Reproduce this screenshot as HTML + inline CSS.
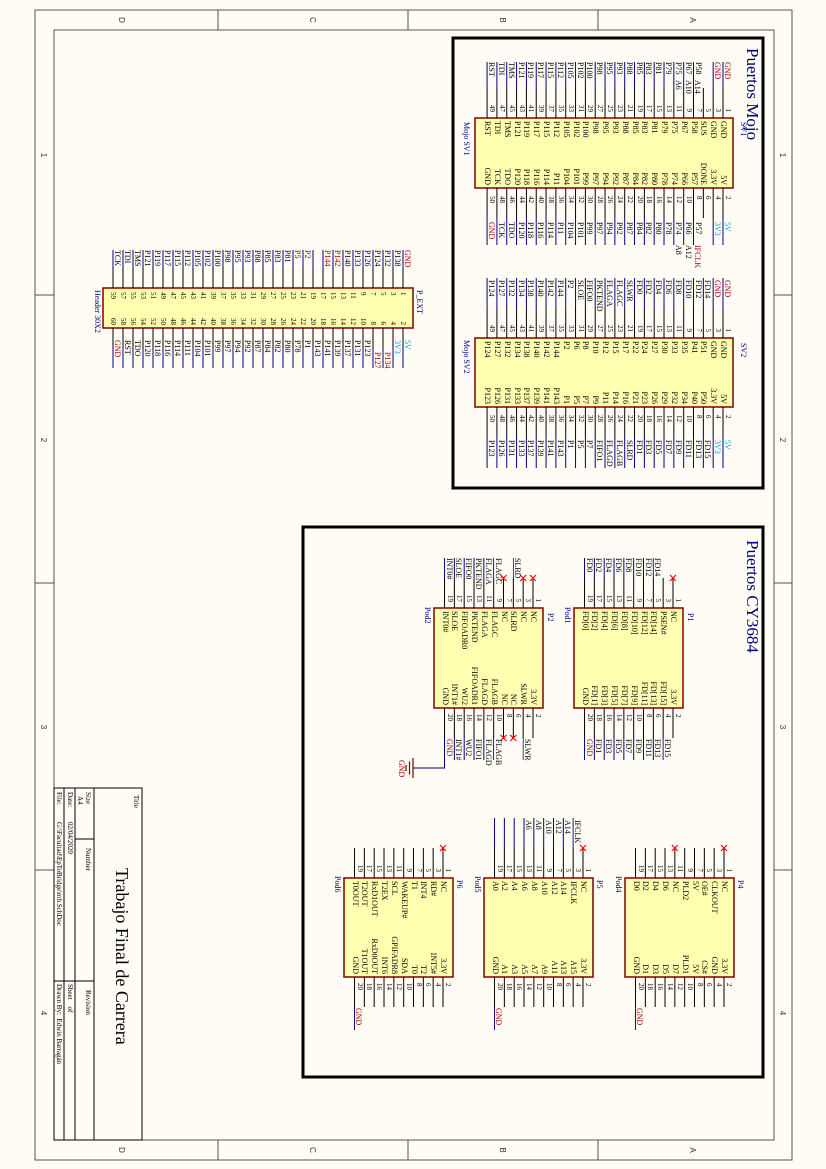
<!DOCTYPE html>
<html><head><meta charset="utf-8"><style>
*{margin:0;padding:0}
body{width:826px;height:1169px;background:#fffcf5;overflow:hidden;position:relative}
#L{position:absolute;left:0;top:0;width:1169px;height:826px;transform-origin:0 0;transform:translate(826px,0) rotate(90deg)}
#L svg{position:absolute;left:0;top:0}
.c{position:absolute;font:8px/9.83px "Liberation Serif",serif;white-space:pre;color:#000}
.h{line-height:10px}
.n{font-size:7px}
.r{text-align:right;width:40px}
.rd{color:#a00000}.cy{color:#00a0e0}.nv{color:#000080}
.d{position:absolute;font:8px "Liberation Serif",serif;color:#000080;white-space:pre}
.t{position:absolute;font:7px "Liberation Serif",serif;color:#000;white-space:pre}
</style></head><body><div id="L">
<svg width="1169" height="826">
<defs>
<pattern id="pk" width="10" height="9.83" patternUnits="userSpaceOnUse" y="-0.5"><rect width="10" height="1" fill="#000"/></pattern>
<pattern id="pb" width="10" height="9.83" patternUnits="userSpaceOnUse" y="-0.5"><rect width="10" height="1" fill="#000080"/></pattern>
<pattern id="hk" width="10" height="10" patternUnits="userSpaceOnUse" y="-0.5"><rect width="10" height="1" fill="#000"/></pattern>
<pattern id="hb" width="10" height="10" patternUnits="userSpaceOnUse" y="-0.5"><rect width="10" height="1" fill="#000080"/></pattern>
</defs>
<g fill="none" stroke="#555" stroke-width="1">
<rect x="10" y="34" width="1150" height="757"/>
<rect x="30" y="52" width="1110" height="720"/>
<path d="M295 34v18M583 34v18M870 34v18M295 772v19M583 772v19M870 772v19M10 228h20M10 418h20M10 608h20M1140 228h20M1140 418h20M1140 608h20"/>
</g>
<g font-family="Liberation Sans" font-size="8" fill="#333" text-anchor="middle">
<text x="20" y="136">A</text><text x="20" y="326">B</text><text x="20" y="516">C</text><text x="20" y="707">D</text>
<text x="1150" y="136">A</text><text x="1150" y="326">B</text><text x="1150" y="516">C</text><text x="1150" y="707">D</text>
<text x="155" y="46">1</text><text x="440" y="46">2</text><text x="727" y="46">3</text><text x="1013" y="46">4</text>
<text x="155" y="785">1</text><text x="440" y="785">2</text><text x="727" y="785">3</text><text x="1013" y="785">4</text>
</g>
<rect x="38" y="63" width="450" height="310" fill="none" stroke="#000" stroke-width="3"/>
<rect x="527" y="63" width="550" height="460" fill="none" stroke="#000" stroke-width="3"/>
<g fill="none" stroke="#000" stroke-width="1">
<rect x="788" y="684" width="352" height="88"/>
<path d="M788 732h352M788 751h352M788 762h352M839 732v19M981 732v40"/>
</g>
<g fill="#ffffb0" stroke="#800000" stroke-width="1.5">
<rect x="118" y="93" width="70" height="258"/>
<rect x="338" y="93" width="69" height="258"/>
<rect x="288" y="413" width="40" height="310"/>
<rect x="608" y="143" width="100" height="109"/>
<rect x="608" y="283" width="100" height="109"/>
<rect x="878" y="92" width="99" height="109"/>
<rect x="878" y="233" width="99" height="109"/>
<rect x="878" y="373" width="99" height="109"/>
</g>
<g transform="translate(0,103)">
<rect x="88" y="-0.5" width="30" height="238" fill="url(#pk)"/>
<rect x="62" y="-0.5" width="26" height="11" fill="url(#pb)"/>
<rect x="62" y="28.99" width="26" height="209" fill="url(#pb)"/>
<rect x="188" y="-0.5" width="30" height="238" fill="url(#pk)"/>
<rect x="218" y="-0.5" width="27" height="11" fill="url(#pb)"/>
<rect x="218" y="28.99" width="27" height="209" fill="url(#pb)"/>
<rect x="308" y="-0.5" width="30" height="238" fill="url(#pk)"/>
<rect x="278" y="-0.5" width="30" height="238" fill="url(#pb)"/>
<rect x="407" y="-0.5" width="30" height="238" fill="url(#pk)"/>
<rect x="437" y="-0.5" width="31" height="238" fill="url(#pb)"/>
</g>
<g transform="translate(0,423)">
<rect x="268" y="-0.5" width="20" height="292" fill="url(#hk)"/>
<rect x="250" y="-0.5" width="18" height="292" fill="url(#hb)"/>
<rect x="328" y="-0.5" width="20" height="292" fill="url(#hk)"/>
<rect x="348" y="-0.5" width="20" height="292" fill="url(#hb)"/>
</g>
<g transform="translate(0,153)">
<rect x="578" y="-0.5" width="30" height="90" fill="url(#pk)"/>
<rect x="558" y="19.16" width="20" height="71" fill="url(#pb)"/>
<rect x="708" y="-0.5" width="30" height="90" fill="url(#pk)"/>
<rect x="738" y="9.33" width="22" height="81" fill="url(#pb)"/>
</g>
<g transform="translate(0,293)">
<rect x="578" y="-0.5" width="30" height="90" fill="url(#pk)"/>
<rect x="558" y="19.16" width="20" height="1" fill="url(#pb)"/>
<rect x="558" y="38.82" width="20" height="51" fill="url(#pb)"/>
<rect x="708" y="-0.5" width="30" height="90" fill="url(#pk)"/>
<rect x="738" y="9.33" width="22" height="1" fill="url(#pb)"/>
<rect x="738" y="38.82" width="22" height="41" fill="url(#pb)"/>
</g>
<path d="M738 381.5H768V413" fill="none" stroke="#000080" stroke-width="1"/>
<path d="M758 413h20M761.5 416.5h13M765 420h6" stroke="#800000" stroke-width="1.2"/>
<g transform="translate(0,102)">
<rect x="848" y="-0.5" width="30" height="90" fill="url(#pk)"/>
<rect x="977" y="-0.5" width="30" height="90" fill="url(#pk)"/>
<rect x="1007" y="87.97" width="23" height="1" fill="url(#pb)"/>
</g>
<g transform="translate(0,243)">
<rect x="848" y="-0.5" width="30" height="90" fill="url(#pk)"/>
<rect x="818" y="9.33" width="30" height="81" fill="url(#pb)"/>
<rect x="977" y="-0.5" width="30" height="90" fill="url(#pk)"/>
<rect x="1007" y="87.97" width="23" height="1" fill="url(#pb)"/>
</g>
<g transform="translate(0,383)">
<rect x="848" y="-0.5" width="30" height="90" fill="url(#pk)"/>
<rect x="977" y="-0.5" width="30" height="90" fill="url(#pk)"/>
<rect x="1007" y="87.97" width="23" height="1" fill="url(#pb)"/>
</g>
<g stroke="#ff0000" stroke-width="1.2" fill="none">
<path d="M575 150l6 6M581 150l-6 6"/>
<path d="M575 290l6 6M581 290l-6 6M575 299.8l6 6M581 299.8l-6 6M575 319.5l6 6M581 319.5l-6 6"/>
<path d="M735 309.7l6 6M741 309.7l-6 6M735 319.5l6 6M741 319.5l-6 6"/>
<path d="M845 99l6 6M851 99l-6 6M845 148.2l6 6M851 148.2l-6 6"/>
<path d="M845 240l6 6M851 240l-6 6"/>
<path d="M845 380l6 6M851 380l-6 6"/>
</g>
</svg>

<div class="d" style="left:48px;top:64px;font-size:17px">Puertos Mojo</div>
<div class="d" style="left:540px;top:64px;font-size:17px">Puertos CY3684</div>

<!-- SV1 -->
<div class="d" style="left:122px;top:78px">SV1</div>
<div class="d" style="left:122px;top:355px">Mojo SV1</div>
<div class="c" style="left:62px;top:94px"><span class="rd">GND</span><br><span class="rd">GND</span><br> <br>P58<br>P67<br>P75<br>P79<br>P81<br>P83<br>P85<br>P88<br>P93<br>P95<br>P98<br>P100<br>P102<br>P105<br>P112<br>P115<br>P117<br>P119<br>P121<br>TMS<br>TDI<br>RST</div>
<div class="c" style="left:80px;top:123.5px">A14<br>A10<br>A6</div>
<div class="c r n" style="left:72px;top:94px">1<br>3<br>5<br>7<br>9<br>11<br>13<br>15<br>17<br>19<br>21<br>23<br>25<br>27<br>29<br>31<br>33<br>35<br>37<br>39<br>41<br>43<br>45<br>47<br>49</div>
<div class="c" style="left:121px;top:98px">GND<br>GND<br>SUS<br>P58<br>P67<br>P75<br>P79<br>P81<br>P83<br>P85<br>P88<br>P93<br>P95<br>P98<br>P100<br>P102<br>P105<br>P112<br>P115<br>P117<br>P119<br>P121<br>TMS<br>TDI<br>RST</div>
<div class="c r" style="left:145px;top:98px">5V<br>3.3V<br>DONE<br>P57<br>P66<br>P74<br>P78<br>P80<br>P82<br>P84<br>P87<br>P92<br>P94<br>P97<br>P99<br>P101<br>P104<br>P11<br>P114<br>P116<br>P118<br>P120<br>TDO<br>TCK<br>GND</div>
<div class="c n" style="left:196px;top:94px">2<br>4<br>6<br>8<br>10<br>12<br>14<br>16<br>18<br>20<br>22<br>24<br>26<br>28<br>30<br>32<br>34<br>36<br>38<br>40<br>42<br>44<br>46<br>48<br>50</div>
<div class="c" style="left:222px;top:94px"><span class="cy">5V</span><br><span class="cy">3V3</span><br> <br>P57<br>P66<br>P74<br>P78<br>P80<br>P82<br>P84<br>P87<br>P92<br>P94<br>P97<br>P99<br>P101<br>P104<br>P11<br>P114<br>P116<br>P118<br>P120<br>TDO<br>TCK<br><span class="rd">GND</span></div>
<div class="c" style="left:245px;top:123.5px"><span class="rd">IFCLK</span><br>A12<br>A8</div>

<!-- SV2 -->
<div class="d" style="left:343px;top:78px">SV2</div>
<div class="d" style="left:340px;top:355px">Mojo SV2</div>
<div class="c" style="left:280px;top:94px"><span class="rd">GND</span><br><span class="rd">GND</span><br>FD14<br>FD12<br>FD10<br>FD8<br>FD6<br>FD4<br>FD2<br>FD0<br>SLWR<br>FLAGC<br>FLAGA<br>PKTEND<br>FIFO0<br>SLOE<br>P2<br>P144<br>P142<br>P140<br>P138<br>P134<br>P132<br>P127<br>P124</div>
<div class="c r n" style="left:292px;top:94px">1<br>3<br>5<br>7<br>9<br>11<br>13<br>15<br>17<br>19<br>21<br>23<br>25<br>27<br>29<br>31<br>33<br>35<br>37<br>39<br>41<br>43<br>45<br>47<br>49</div>
<div class="c" style="left:341px;top:98px">GND<br>GND<br>P51<br>P41<br>P35<br>P33<br>P30<br>P27<br>P24<br>P22<br>P17<br>P15<br>P12<br>P10<br>P8<br>P6<br>P2<br>P144<br>P142<br>P140<br>P138<br>P134<br>P132<br>P127<br>P124</div>
<div class="c r" style="left:364px;top:98px">5V<br>3.3V<br>P50<br>P40<br>P34<br>P32<br>P29<br>P26<br>P23<br>P21<br>P16<br>P14<br>P11<br>P9<br>P7<br>P5<br>P1<br>P143<br>P141<br>P139<br>P137<br>P133<br>P131<br>P126<br>P123</div>
<div class="c n" style="left:415px;top:94px">2<br>4<br>6<br>8<br>10<br>12<br>14<br>16<br>18<br>20<br>22<br>24<br>26<br>28<br>30<br>32<br>34<br>36<br>38<br>40<br>42<br>44<br>46<br>48<br>50</div>
<div class="c" style="left:440px;top:94px"><span class="cy">5V</span><br><span class="cy">3V3</span><br>FD15<br>FD13<br>FD11<br>FD9<br>FD7<br>FD5<br>FD3<br>FD1<br>SLRD<br>FLAGB<br>FLAGD<br>FIFO1<br>P7<br>P5<br>P1<br>P143<br>P141<br>P139<br>P137<br>P133<br>P131<br>P126<br>P123</div>

<!-- Header -->
<div class="d" style="left:290px;top:402px">P_EXT</div>
<div class="d" style="left:290px;top:724px">Header 30X2</div>
<div class="c h" style="left:250px;top:414px"><span class="rd">GND</span><br>P138<br>P132<br>P124<br>P126<br>P133<br>P140<br><span class="rd">P142</span><br><span class="rd">P144</span><br> <br><span class="rd">P2</span><br><span class="rd">P5</span><br>P81<br>P83<br>P85<br>P88<br>P93<br>P95<br>P98<br>P100<br>P102<br>P105<br>P112<br>P115<br>P117<br>P119<br>P121<br>TMS<br>TDI<br>TCK</div>
<div class="c h n" style="left:292px;top:418px">1<br>3<br>5<br>7<br>9<br>11<br>13<br>15<br>17<br>19<br>21<br>23<br>25<br>27<br>29<br>31<br>33<br>35<br>37<br>39<br>41<br>43<br>45<br>47<br>49<br>51<br>53<br>55<br>57<br>59</div>
<div class="c h n r" style="left:285px;top:418px">2<br>4<br>6<br>8<br>10<br>12<br>14<br>16<br>18<br>20<br>22<br>24<br>26<br>28<br>30<br>32<br>34<br>36<br>38<br>40<br>42<br>44<br>46<br>48<br>50<br>52<br>54<br>56<br>58<br>60</div>
<div class="c h" style="left:340px;top:414px"><span class="cy">5V</span><br><span class="cy">3V3</span><br> <br> <br>P123<br>P131<br>P137<br>P139<br>P141<br>P143<br>P1<br>P78<br>P80<br>P82<br>P84<br>P87<br>P92<br>P94<br>P97<br>P99<br>P101<br>P104<br>P111<br>P114<br>P116<br>P118<br>P120<br>TDO<br>RST<br><span class="rd">GND</span></div>
<div class="c h rd" style="left:352px;top:434px">P134<br>P127</div>

<!-- P1 -->
<div class="d" style="left:613px;top:131px">P1</div>
<div class="d" style="left:607px;top:254px">Pod1</div>
<div class="c" style="left:558px;top:144px"> <br> <br>FD14<br>FD12<br>FD10<br>FD8<br>FD6<br>FD4<br>FD2<br>FD0</div>
<div class="c r n" style="left:562px;top:144px">1<br>3<br>5<br>7<br>9<br>11<br>13<br>15<br>17<br>19</div>
<div class="c" style="left:611px;top:148px">NC<br>PSEN#<br>FD[14]<br>FD[12]<br>FD[10]<br>FD[8]<br>FD[6]<br>FD[4]<br>FD[2]<br>FD[0]</div>
<div class="c r" style="left:665px;top:148px">3.3V<br>FD[15]<br>FD[13]<br>FD[11]<br>FD[9]<br>FD[7]<br>FD[5]<br>FD[3]<br>FD[1]<br>GND</div>
<div class="c n" style="left:714px;top:144px">2<br>4<br>6<br>8<br>10<br>12<br>14<br>16<br>18<br>20</div>
<div class="c" style="left:739px;top:144px"> <br>FD15<br>FD13<br>FD11<br>FD9<br>FD7<br>FD5<br>FD3<br>FD1<br><span class="rd">GND</span></div>

<!-- P2 -->
<div class="d" style="left:613px;top:271px">P2</div>
<div class="d" style="left:607px;top:394px">Pod2</div>
<div class="c" style="left:558px;top:284px"> <br> <br>SLRD<br> <br>FLAGC<br>FLAGA<br>PKTEND<br>FIFO0<br>SLOE<br>INT0#</div>
<div class="c r n" style="left:562px;top:284px">1<br>3<br>5<br>7<br>9<br>11<br>13<br>15<br>17<br>19</div>
<div class="c" style="left:611px;top:288px">NC<br>NC<br>SLRD<br>NC<br>FLAGC<br>FLAGA<br>PKTEND<br>FIFOADR0<br>SLOE<br>INT0#</div>
<div class="c r" style="left:665px;top:288px">3.3V<br>SLWR<br>NC<br>NC<br>FLAGB<br>FLAGD<br>FIFOADR1<br>WU2<br>INT1#<br>GND</div>
<div class="c n" style="left:714px;top:284px">2<br>4<br>6<br>8<br>10<br>12<br>14<br>16<br>18<br>20</div>
<div class="c" style="left:739px;top:284px"> <br>SLWR<br> <br> <br>FLAGB<br>FLAGD<br>FIFO1<br>WU2<br>INT1#<br><span class="rd">GND</span></div>
<div class="c rd" style="left:760px;top:420px">GND</div>

<!-- P4 -->
<div class="d" style="left:880px;top:81px">P4</div>
<div class="d" style="left:876px;top:203px">Pod4</div>
<div class="c r n" style="left:832px;top:93px">1<br>3<br>5<br>7<br>9<br>11<br>13<br>15<br>17<br>19</div>
<div class="c" style="left:881px;top:97px">NC<br>CLKOUT<br>OE#<br>5V<br>PLD2<br>NC<br>D6<br>D4<br>D2<br>D0</div>
<div class="c r" style="left:934px;top:97px">3.3V<br>GND<br>CS#<br>5V<br>PLD1<br>D7<br>D5<br>D3<br>D1<br>GND</div>
<div class="c n" style="left:983px;top:93px">2<br>4<br>6<br>8<br>10<br>12<br>14<br>16<br>18<br>20</div>
<div class="c rd" style="left:1008px;top:181.5px">GND</div>

<!-- P5 -->
<div class="d" style="left:880px;top:222px">P5</div>
<div class="d" style="left:876px;top:344px">Pod5</div>
<div class="c" style="left:820px;top:234px"> <br>IFCLK<br>A14<br>A12<br>A10<br>A8<br>A6</div>
<div class="c r n" style="left:832px;top:234px">1<br>3<br>5<br>7<br>9<br>11<br>13<br>15<br>17<br>19</div>
<div class="c" style="left:881px;top:238px">NC<br>IFCLK<br>A14<br>A12<br>A10<br>A8<br>A6<br>A4<br>A2<br>A0</div>
<div class="c r" style="left:934px;top:238px">3.3V<br>A15<br>A13<br>A11<br>A9<br>A7<br>A5<br>A3<br>A1<br>GND</div>
<div class="c n" style="left:983px;top:234px">2<br>4<br>6<br>8<br>10<br>12<br>14<br>16<br>18<br>20</div>
<div class="c rd" style="left:1008px;top:322.5px">GND</div>

<!-- P6 -->
<div class="d" style="left:880px;top:362px">P6</div>
<div class="d" style="left:876px;top:484px">Pod6</div>
<div class="c r n" style="left:832px;top:374px">1<br>3<br>5<br>7<br>9<br>11<br>13<br>15<br>17<br>19</div>
<div class="c" style="left:881px;top:378px">NC<br>RD#<br>INT4<br>T1<br>WAKEUP#<br>SCL<br>T2EX<br>RxD1OUT<br>T2OUT<br>T0OUT</div>
<div class="c r" style="left:914px;top:378px;width:60px">3.3V<br>INT5#<br>T2<br>T0<br>SDA<br>GPIFADR8<br>INT6<br>RxD0OUT<br>T1OUT<br>GND</div>
<div class="c n" style="left:983px;top:374px">2<br>4<br>6<br>8<br>10<br>12<br>14<br>16<br>18<br>20</div>
<div class="c rd" style="left:1008px;top:462.5px">GND</div>

<!-- Title block -->
<div class="t" style="left:795px;top:686px">Title</div>
<div class="t" style="left:868px;top:694px;font-size:18px">Trabajo Final de Carrera</div>
<div class="t" style="left:792px;top:734px">Size</div>
<div class="t" style="left:796px;top:742px">A4</div>
<div class="t" style="left:848px;top:734px">Number</div>
<div class="t" style="left:990px;top:734px">Revision</div>
<div class="t" style="left:792px;top:752px">Date:</div>
<div class="t" style="left:822px;top:752px">02/04/2020</div>
<div class="t" style="left:984px;top:752px">Sheet    of</div>
<div class="t" style="left:792px;top:763px">File:</div>
<div class="t" style="left:822px;top:763px">G:\Facultad\EpToBridge\mb.SchDoc</div>
<div class="t" style="left:984px;top:763px">Drawn By:  Edwin Barragán</div>
</div></body></html>
